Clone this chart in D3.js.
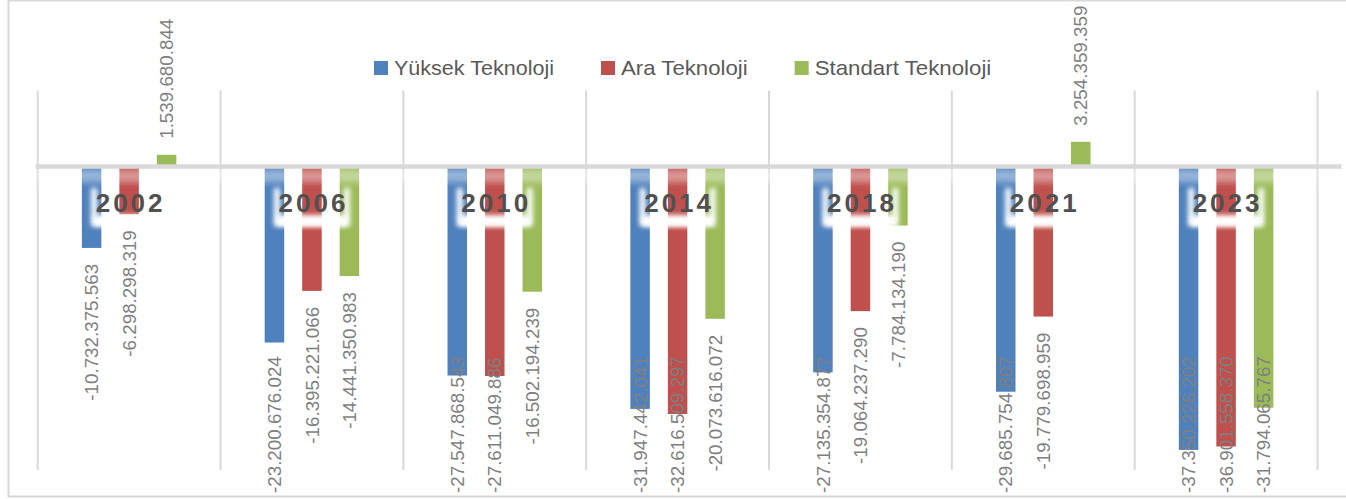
<!DOCTYPE html>
<html><head><meta charset="utf-8">
<script src="https://cdn.jsdelivr.net/npm/d3@7"></script>
<style>html,body{margin:0;padding:0;background:#fff;}svg{display:block;}</style>
</head><body>
<svg id="chart" width="1346" height="499"></svg>
<script>
const years = ["2002","2006","2010","2014","2018","2021","2023"];
const seriesNames = ["Yüksek Teknoloji","Ara Teknoloji","Standart Teknoloji"];
const yuksek = [-10732375563, -23200676024, -27547868543, -31947442041, -27135354877, -29685754807, -37350226202];
const ara = [-6298298319, -16395221066, -27611049886, -32616509297, -19064237290, -19779698959, -36901558370];
const standart = [1539680844, -14441350983, -16502194239, -20073616072, -7784134190, 3254359359, -31794065767];
const colors = ["#4f81bd","#c0504d","#9bbb59"];
const yDomain = [-40e9, 10e9];

const seriesValues = [yuksek, ara, standart];
const svg = d3.select("#chart");
const W = 1346, H = 499;
const plot = {left: 37.7, right: 1317.5, top: 90.6, bottom: 470};

const x0 = d3.scaleBand().domain(years).range([plot.left, plot.right]).padding(0);
const x1 = d3.scaleBand().domain(seriesNames).range([-47.25, 47.25]).paddingInner(0.48).paddingOuter(0);
const y = d3.scaleLinear().domain(yDomain).range([plot.bottom, plot.top]);
const color = d3.scaleOrdinal().domain(seriesNames).range(colors);
const fmt = d3.formatLocale({decimal: ",", thousands: ".", grouping: [3], currency: ["", ""], minus: "-"}).format(",d");

const defs = svg.append("defs");
defs.append("filter").attr("id","blur").attr("x","-30%").attr("y","-60%").attr("width","160%").attr("height","220%")
  .append("feGaussianBlur").attr("stdDeviation", 2.8);
defs.append("filter").attr("id","blur2").attr("x","-10%").attr("y","-100%").attr("width","120%").attr("height","300%")
  .append("feGaussianBlur").attr("stdDeviation", 3);

// chart border
svg.append("rect").attr("x", 8.5).attr("y", 0.5).attr("width", W + 10).attr("height", 496)
  .attr("fill", "#fff").attr("stroke", "#d9d9d9").attr("stroke-width", 2);

// vertical gridlines at category boundaries
const bounds = years.map(d => x0(d)).concat([x0(years[years.length-1]) + x0.bandwidth()]);
svg.append("g").selectAll("line").data(bounds).join("line")
  .attr("x1", d => d).attr("x2", d => d)
  .attr("y1", plot.top).attr("y2", plot.bottom)
  .attr("stroke", "#d9d9d9").attr("stroke-width", 2);

// bars
const data = [];
years.forEach((yr, i) => seriesNames.forEach((s, j) => data.push({year: yr, series: s, value: seriesValues[j][i]})));
const cx = d => x0(d.year) + x0.bandwidth() / 2 + x1(d.series) + x1.bandwidth() / 2;

svg.append("g").selectAll("rect").data(data).join("rect")
  .attr("x", d => x0(d.year) + x0.bandwidth() / 2 + x1(d.series))
  .attr("width", x1.bandwidth())
  .attr("y", d => Math.min(y(d.value), y(0)))
  .attr("height", d => Math.abs(y(d.value) - y(0)))
  .attr("fill", d => color(d.series));

// faint light band just below the axis
svg.append("rect").attr("x", plot.left).attr("width", plot.right - plot.left)
  .attr("y", y(0) + 3).attr("height", 13)
  .attr("fill", "#fff").attr("opacity", 0.4).attr("filter", "url(#blur2)");

// zero axis line
svg.append("line").attr("x1", plot.left - 2).attr("x2", plot.right + 24)
  .attr("y1", y(0)).attr("y2", y(0))
  .attr("stroke", "#d9d9d9").attr("stroke-width", 4.3);

// year labels with white glow box (sides + bottom)
const yl = svg.append("g");
years.forEach(yr => {
  const c = x0(yr) + x0.bandwidth() / 2;
  yl.append("path")
    .attr("d", `M${c - 35},188 L${c - 35},223 L${c + 35},223 L${c + 35},188`)
    .attr("fill", "none").attr("stroke", "#fff").attr("stroke-width", 6).attr("filter", "url(#blur)");
  yl.append("rect").attr("x", c - 35).attr("y", 215).attr("width", 70).attr("height", 11)
    .attr("fill", "#fff").attr("filter", "url(#blur)");
  yl.append("text").attr("x", c + 1.5).attr("y", 212)
    .attr("text-anchor", "middle")
    .attr("font-family", "'Liberation Sans', Arial, sans-serif").attr("font-weight", "bold")
    .attr("font-size", 26).attr("letter-spacing", 3)
    .attr("fill", "#505050").text(yr);
});

// data labels
const gap = 16, bottomLimit = 493;
const lbl = svg.append("g").selectAll("text").data(data).join("text")
  .attr("font-family", "'Liberation Sans', Arial, sans-serif")
  .attr("font-size", 18.8).attr("fill", "#7f7f7f")
  .attr("dy", "0.35em").attr("text-anchor", "start")
  .text(d => fmt(d.value));
lbl.each(function(d) {
  const len = this.getComputedTextLength();
  let py;
  if (d.value >= 0) py = y(d.value) - gap;
  else py = Math.min(y(d.value) + gap + len, bottomLimit);
  d3.select(this).attr("transform", `translate(${cx(d)},${py}) rotate(-90)`);
});

// legend
const lg = svg.append("g");
let lx = 374;
const legendWidths = [160, 126.7, 176.6];
seriesNames.forEach((s, i) => {
  lg.append("rect").attr("x", lx).attr("y", 61).attr("width", 14).attr("height", 14).attr("fill", color(s));
  lg.append("text").attr("x", lx + 20).attr("y", 75)
    .attr("font-family", "'Liberation Sans', Arial, sans-serif").attr("font-size", 21)
    .attr("fill", "#595959")
    .attr("textLength", legendWidths[i]).attr("lengthAdjust", "spacingAndGlyphs")
    .text(s);
  lx += 20 + legendWidths[i] + 47;
});
</script>
</body></html>
